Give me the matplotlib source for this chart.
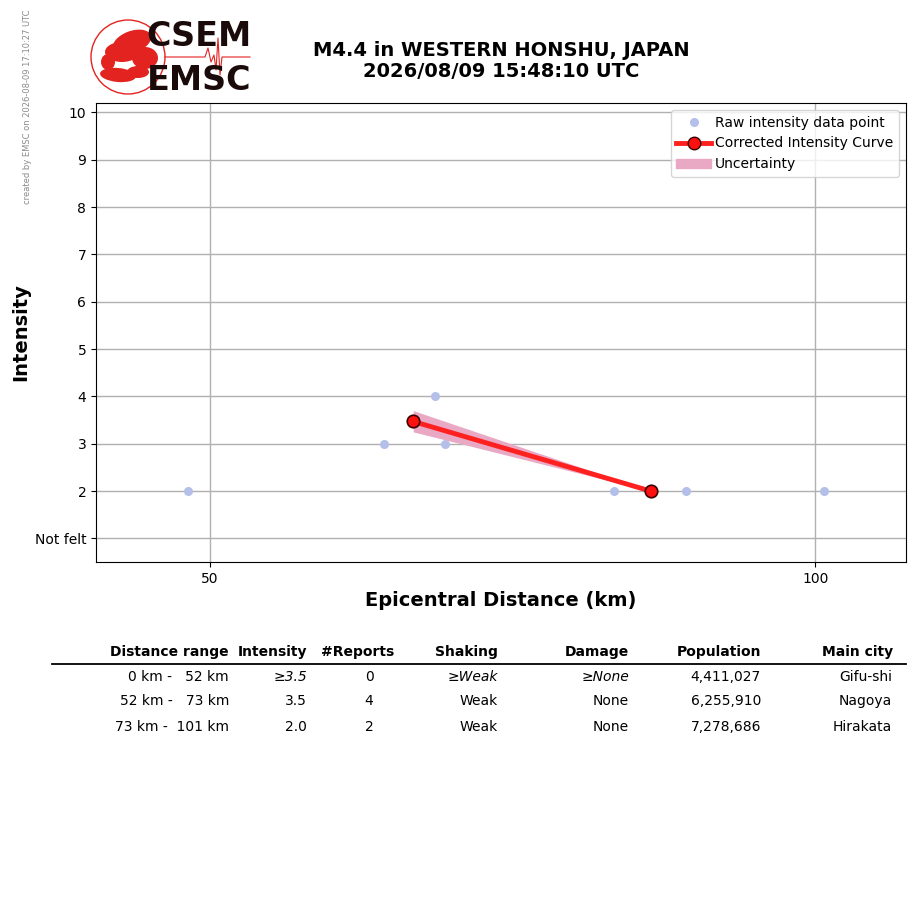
import matplotlib
matplotlib.use("Agg")
import matplotlib.pyplot as plt
from matplotlib.patches import Circle, Ellipse, Patch
from matplotlib.lines import Line2D
import numpy as np

W, H = 915, 905

# raw intensity reports (distance km, intensity)
raw_dist = [48.2, 64.4, 68.6, 69.4, 83.4, 89.3, 100.7]
raw_int = [2, 3, 4, 3, 2, 2, 2]

# corrected intensity curve with uncertainty band
curve_dist = [66.8, 86.4]
curve_int = [3.47, 2.0]
band_low = [3.25, 2.0]
band_high = [3.70, 2.0]

ytick_vals = [1, 2, 3, 4, 5, 6, 7, 8, 9, 10]
ytick_labels = ["Not felt", "2", "3", "4", "5", "6", "7", "8", "9", "10"]
xtick_vals = [50, 100]

headers = ["Distance range", "Intensity", "#Reports", "Shaking", "Damage", "Population", "Main city"]
dist_ranges = ["0 km -   52 km", "52 km -   73 km", "73 km -  101 km"]
intensities = ["3.5", "3.5", "2.0"]
reports = ["0", "4", "2"]
shaking = ["Weak", "Weak", "Weak"]
damage = ["None", "None", "None"]
population = ["4,411,027", "6,255,910", "7,278,686"]
cities = ["Gifu-shi", "Nagoya", "Hirakata"]
lower_bound_row = [True, False, False]


def fx(px):
    return px / W


def fy(py):
    return 1 - py / H


fig = plt.figure(figsize=(W / 100, H / 100), dpi=100)
ax = fig.add_axes([fx(96), fy(562), (906 - 96) / W, (562 - 103) / H])

ax.grid(True, color="#b0b0b0", lw=1)
ax.set_axisbelow(True)

ax.plot(raw_dist, raw_int, "o", ls="none", color="#b4c0ea", ms=5.5,
        label="Raw intensity data point", zorder=2)
ax.fill_between(curve_dist, band_low, band_high, color="#e9a9c4", lw=0, zorder=3)
ax.plot(curve_dist, curve_int, "-o", color="#ff2020", lw=3.5, ms=9,
        mfc="#ff1010", mec="#3a0000", mew=1.2, zorder=4,
        label="Corrected Intensity Curve")

handles = [
    Line2D([], [], marker="o", ls="none", color="#b4c0ea", ms=5.5),
    Line2D([], [], marker="o", color="#ff2020", lw=3.5, ms=9, mfc="#ff1010", mec="#3a0000"),
    Patch(color="#e9a9c4"),
]
ax.legend(handles, ["Raw intensity data point", "Corrected Intensity Curve", "Uncertainty"],
          loc="upper right", fontsize=10, framealpha=0.8, handlelength=2.5,
          handletextpad=0.3)

ax.set_xlim(40.6, 107.5)
ax.set_ylim(0.5, 10.2)
ax.set_xticks(xtick_vals)
ax.set_yticks(ytick_vals)
ax.set_yticklabels(ytick_labels)
ax.tick_params(labelsize=10)
ax.set_xlabel("Epicentral Distance (km)", fontsize=14, fontweight="bold", labelpad=4)
ax.set_ylabel("Intensity", fontsize=14, fontweight="bold", labelpad=3)

fig.text(fx(501), fy(61), "M4.4 in WESTERN HONSHU, JAPAN\n2026/08/09 15:48:10 UTC",
         ha="center", va="center", fontsize=14, fontweight="bold", linespacing=1.15)

fig.text(fx(28), fy(107), "created by EMSC on 2026-08-09 17:10:27 UTC",
         rotation=90, ha="center", va="center", fontsize=6, color="#8a8a8a")

# logo
lax = fig.add_axes([fx(88), fy(100), (256 - 88) / W, (100 - 16) / H])
lax.set_xlim(88, 256)
lax.set_ylim(100, 16)
lax.set_aspect("equal")
lax.axis("off")
red = "#e3231f"
lax.add_patch(Circle((128, 57), 37, fill=False, ec=red, lw=1))
for cx, cy, w, h, ang in [(132, 42, 40, 22, -20), (122, 52, 34, 20, 0),
                          (145, 58, 26, 22, 0), (118, 75, 36, 14, 5),
                          (108, 62, 14, 16, 0), (138, 72, 22, 12, 0)]:
    lax.add_patch(Ellipse((cx, cy), w, h, angle=ang, color=red, lw=0))
lax.plot([165, 205, 208, 211, 214, 216, 218, 220, 222, 250],
         [57, 57, 48, 62, 55, 70, 38, 75, 57, 57], color=red, lw=0.8)
lax.text(199, 37, "CSEM", ha="center", va="center", fontsize=24,
         fontweight="heavy", color="#1a0a0a")
lax.text(199, 81, "EMSC", ha="center", va="center", fontsize=24,
         fontweight="heavy", color="#1a0a0a")

# summary table
col_right = [229, 307, 394, 498, 629, 761, 893]
row_y = [677, 701, 727]
for xr, head in zip(col_right, headers):
    fig.text(fx(xr), fy(652), head, ha="right", va="center", fontsize=10, fontweight="bold")
fig.add_artist(Line2D([fx(52), fx(906)], [fy(664), fy(664)], color="black", lw=1.3))

for i, y in enumerate(row_y):
    lb = lower_bound_row[i]
    style = "italic" if lb else "normal"
    pre = "≥" if lb else ""
    fig.text(fx(229), fy(y), dist_ranges[i], ha="right", va="center", fontsize=10)
    fig.text(fx(307), fy(y), pre + intensities[i], ha="right", va="center", fontsize=10, style=style)
    fig.text(fx(369), fy(y), reports[i], ha="center", va="center", fontsize=10)
    fig.text(fx(498), fy(y), pre + shaking[i], ha="right", va="center", fontsize=10, style=style)
    fig.text(fx(629), fy(y), pre + damage[i], ha="right", va="center", fontsize=10, style=style)
    fig.text(fx(761), fy(y), population[i], ha="right", va="center", fontsize=10)
    fig.text(fx(892), fy(y), cities[i], ha="right", va="center", fontsize=10)

fig.savefig("out.png", dpi=100)
